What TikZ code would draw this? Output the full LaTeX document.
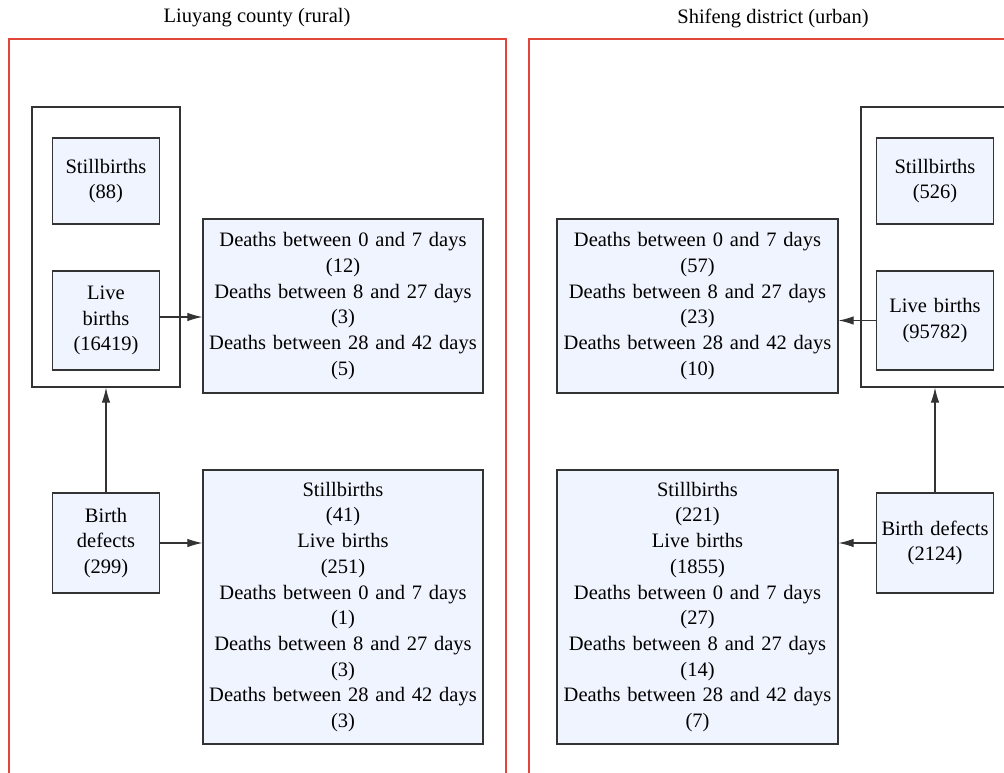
\documentclass[tikz,border=0pt]{standalone}
\usepackage{fontspec}
\setmainfont{Liberation Serif}
\usetikzlibrary{arrows.meta}
\definecolor{boxfill}{HTML}{F0F4FE}
\definecolor{boxline}{HTML}{333333}
\definecolor{framered}{HTML}{E0463A}
\begin{document}
\begin{tikzpicture}[x=1pt,y=-1pt,
  txt/.style={font=\fontsize{20.5}{25.7}\selectfont, text=black},
  bx/.style={txt, draw=boxline, line width=1.3pt, fill=boxfill, inner sep=0pt, align=center},
  cont/.style={draw=boxline, line width=1.3pt, inner sep=0pt},
  frame/.style={draw=framered, line width=1.2pt},
  arr/.style={draw=boxline, line width=1.1pt, -{Latex[length=15pt,width=8.5pt]}}]
\useasboundingbox (0,0) rectangle (1004,773);
\clip (0,0) rectangle (1004,773);
% titles
\node[txt] (tL) at (257,18) {Liuyang county (rural)};
\node[txt] (tR) at (773,18) {Shifeng district (urban)};
% red frames
\draw[frame] (9,780) -- (9,39) -- (506,39) -- (506,780);
\draw[frame] (529,780) -- (529,39) -- (1020,39);
% containers
\node[cont, minimum width=148pt, minimum height=280pt] (contL) at (106,247) {};
\node[cont, minimum width=160pt, minimum height=280pt] (contR) at (941,247) {};
% left boxes
\node[bx, minimum width=107pt, minimum height=86pt, text width=100pt] (stillL) at (106,181) {Stillbirths\\(88)};
\node[bx, minimum width=107pt, minimum height=99pt, text width=100pt] (liveL) at (106,320.5) {Live\\births\\(16419)};
\node[bx, minimum width=280pt, minimum height=174pt, text width=274pt] (dL1) at (343,306) {Deaths between 0 and 7 days\\(12)\\Deaths between 8 and 27 days\\(3)\\Deaths between 28 and 42 days\\(5)};
\node[bx, minimum width=107pt, minimum height=100pt, text width=100pt] (defL) at (106,543) {Birth\\defects\\(299)};
\node[bx, minimum width=280pt, minimum height=274pt, text width=274pt] (dL2) at (343,607) {Stillbirths\\(41)\\Live births\\(251)\\Deaths between 0 and 7 days\\(1)\\Deaths between 8 and 27 days\\(3)\\Deaths between 28 and 42 days\\(3)};
% right boxes
\node[bx, minimum width=117pt, minimum height=86pt, text width=112pt] (stillR) at (935,181) {Stillbirths\\(526)};
\node[bx, minimum width=117pt, minimum height=99pt, text width=112pt] (liveR) at (935,320.5) {Live births\\(95782)};
\node[bx, minimum width=281pt, minimum height=174pt, text width=275pt] (dR1) at (697.5,306) {Deaths between 0 and 7 days\\(57)\\Deaths between 8 and 27 days\\(23)\\Deaths between 28 and 42 days\\(10)};
\node[bx, minimum width=117pt, minimum height=100pt, text width=114pt] (defR) at (935,543) {Birth defects\\(2124)};
\node[bx, minimum width=281pt, minimum height=274pt, text width=275pt] (dR2) at (697.5,607) {Stillbirths\\(221)\\Live births\\(1855)\\Deaths between 0 and 7 days\\(27)\\Deaths between 8 and 27 days\\(14)\\Deaths between 28 and 42 days\\(7)};
% arrows
\draw[arr] ([yshift=3.5pt]liveL.east) -- ([yshift=3.5pt]liveL.east -| dL1.west);
\draw[arr] (defL.east) -- (defL.east -| dL2.west);
\draw[arr] (defL.north) -- (defL.north |- contL.south);
\draw[arr] (liveR.west) -- (liveR.west -| dR1.east);
\draw[arr] (defR.west) -- (defR.west -| dR2.east);
\draw[arr] (defR.north) -- (defR.north |- contR.south);
\end{tikzpicture}
\end{document}
